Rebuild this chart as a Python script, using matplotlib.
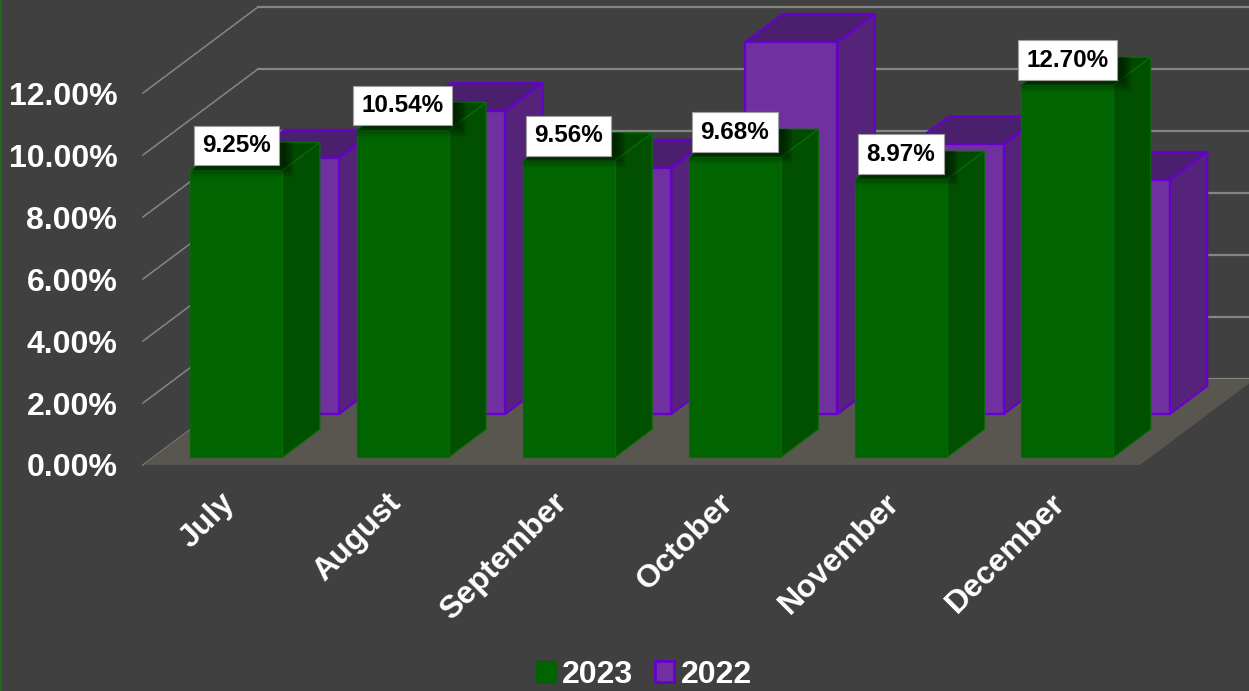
import matplotlib
matplotlib.use('Agg')

import matplotlib.pyplot as plt
from matplotlib.patches import Polygon, Patch, Rectangle
from matplotlib.path import Path
from matplotlib.transforms import ScaledTranslation

plt.rcParams['font.family'] = ['Liberation Sans', 'DejaVu Sans']
plt.rcParams['font.weight'] = 'bold'

# data
months = ['July', 'August', 'September', 'October', 'November', 'December']
values_2023 = [9.25, 10.54, 9.56, 9.68, 8.97, 12.70]
values_2022 = [8.26, 9.77, 7.94, 12.00, 8.70, 7.55]
y_ticks = [0, 2, 4, 6, 8, 10, 12]
y_labels = ['0.00%', '2.00%', '4.00%', '6.00%', '8.00%', '10.00%', '12.00%']

y_max = 12
# oblique projection: shift per unit of depth, in data units
depth_x = 115 / 166.2
depth_y = 86 / 31
bar_w = 92 / 166.2
bar_depth = 28 / 86

bg = '#404040'
grid_c = '#858585'
floor_c = '#59564F'


def proj(x, y, d):
    return (x + d * depth_x, y + d * depth_y)


def draw_bar(ax, x, v, d, colors, edge, lw, z):
    # front, side and top faces of one box, clipped at the axis maximum
    v = min(v, y_max)
    l, r = x - bar_w / 2, x + bar_w / 2
    d2 = d + bar_depth
    front = [proj(l, 0, d), proj(r, 0, d), proj(r, v, d), proj(l, v, d)]
    side = [proj(r, 0, d), proj(r, 0, d2), proj(r, v, d2), proj(r, v, d)]
    top = [proj(l, v, d), proj(r, v, d), proj(r, v, d2), proj(l, v, d2)]
    for pts, c in zip([top, side, front], colors):
        ax.add_patch(Polygon(pts, closed=True, facecolor=c, edgecolor=edge,
                             linewidth=lw, zorder=z, clip_on=False,
                             joinstyle='miter'))
    return front + side + top


fig = plt.figure(figsize=(12.49, 6.91), dpi=100, facecolor=bg)
ax = fig.add_axes([143 / 1249, (691 - 465) / 691, 997 / 1249, 372 / 691])
ax.set_facecolor('none')
ax.set_xlim(-0.5, 5.5)
ax.set_ylim(0, y_max)
for s in ax.spines.values():
    s.set_visible(False)

# floor and gridlines on the back wall
ax.add_patch(Polygon([proj(-0.5, 0, 0), proj(5.5, 0, 0), proj(5.5, 0, 1), proj(-0.5, 0, 1)],
                     closed=True, facecolor=floor_c, edgecolor='none', zorder=1.5, clip_on=False))
for t in y_ticks:
    p0, p1, p2 = proj(-0.5, t, 0), proj(-0.5, t, 1), proj(5.5, t, 1)
    ax.plot([p0[0], p1[0]], [p0[1], p1[1]], color=grid_c, lw=1.1, zorder=1, clip_on=False)
    ax.plot([p1[0], p2[0]], [p1[1], p2[1]], color=grid_c, lw=1.6, zorder=1, clip_on=False)

# 2022 row sits behind the 2023 row
for i, v in enumerate(values_2022):
    draw_bar(ax, i - 0.008, v, 0.593, ['#4A1F6E', '#55237A', '#7030A0'], '#6600CC', 1.6, 2)

green_faces = []
for i, v in enumerate(values_2023):
    green_faces.append(draw_bar(ax, i, v, 0.09, ['#004A00', '#005000', '#006400'], '#0A6A0A', 0.9, 3))

ax.set_yticks(y_ticks)
ax.set_yticklabels(y_labels, fontsize=23, color='white', fontweight='bold')
ax.set_xticks(range(len(months)))
ax.set_xticklabels(months, fontsize=23, color='white', fontweight='bold',
                   rotation=45, ha='right', va='center', rotation_mode='anchor')
ax.tick_params(axis='y', length=0, pad=18.5)
ax.tick_params(axis='x', length=0, pad=24)
for lab in ax.get_xticklabels():
    lab.set_transform(lab.get_transform() + ScaledTranslation(4 / 100, 0, fig.dpi_scale_trans))

# white data labels
labels = []
for i, v in enumerate(values_2023):
    xy = proj(i, min(v, y_max), 0.09)
    txt = ax.annotate('{:.2f}%'.format(v), xy=xy, xytext=(0, 18), textcoords='offset points',
                      ha='center', va='center', fontsize=17.5, color='black', fontweight='bold',
                      annotation_clip=False, zorder=6,
                      bbox=dict(boxstyle='square,pad=0.34', facecolor='white',
                                edgecolor='#A0A0A0', linewidth=0.8))
    labels.append(txt)

# soft drop shadow of each label on its bar
fig.canvas.draw()
rend = fig.canvas.get_renderer()
inv = ax.transData.inverted()
for txt, pts in zip(labels, green_faces):
    ext = txt.get_bbox_patch().get_window_extent(rend)
    codes = [Path.MOVETO, Path.LINETO, Path.LINETO, Path.LINETO] * 3
    clip = Path(pts, codes)
    for k in range(1, 11):
        (x0, y0) = inv.transform((ext.x0 + 6 - k, ext.y0 + 1 - k * 1.25))
        (x1, y1) = inv.transform((ext.x1 + 5 + k, ext.y1))
        r = Rectangle((x0, y0), x1 - x0, y1 - y0, facecolor='black', alpha=0.055,
                      edgecolor='none', zorder=5)
        ax.add_patch(r)
        r.set_clip_box(None)
        r.set_clip_path(clip, ax.transData)

handles = [Patch(facecolor='#006400', edgecolor='#0A5A0A', linewidth=1, label='2023'),
           Patch(facecolor='#7030A0', edgecolor='#6600CC', linewidth=2, label='2022')]
fig.legend(handles=handles, loc='center', bbox_to_anchor=(644 / 1249, 1 - 675 / 691), ncol=2,
           frameon=False, fontsize=23, labelcolor='white', handlelength=0.62, handleheight=0.62,
           handletextpad=0.2, columnspacing=0.66, borderpad=0, borderaxespad=0)

# thin green rule down the left edge
fig.add_artist(Rectangle((0, 0), 1.5 / 1249, 1, transform=fig.transFigure,
                         facecolor='#1E6B1E', edgecolor='none'))

fig.savefig('out.png', dpi=100, facecolor=bg)
